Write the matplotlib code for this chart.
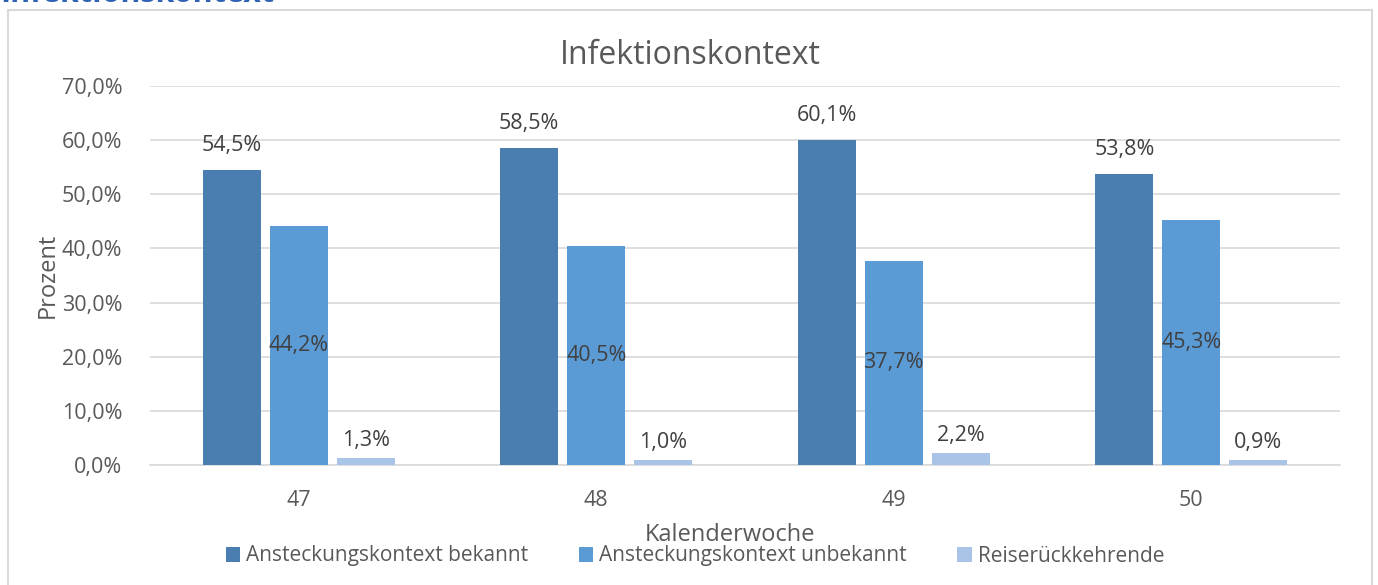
#!/usr/bin/env python3
# -*- coding:utf-8 -*-
import numpy as np
from matplotlib import pyplot as plt
from matplotlib.patches import Rectangle

wochen = ["47", "48", "49", "50"]
bekannt = [54.5, 58.5, 60.1, 53.8]
unbekannt = [44.2, 40.5, 37.7, 45.3]
reise = [1.3, 1.0, 2.2, 0.9]
serien = ["Ansteckungskontext bekannt", "Ansteckungskontext unbekannt", "Reiserückkehrende"]
farben = ["#4A7EB0", "#5B9BD5", "#A9C4E6"]
grau = "#595959"

plt.rcParams['font.family'] = ['Open Sans', 'DejaVu Sans']

W, H = 1378, 585
fig = plt.figure(figsize=(W/100, H/100), dpi=100)

# Rahmen des Diagramms
fig.patches.append(Rectangle((8/W, -0.05), (1372-8)/W, 1.05 - 10/H,
                             transform=fig.transFigure, fill=False,
                             edgecolor="#D9D9D9", linewidth=1.5))
# abgeschnittene Überschrift oben links
fig.text(0/W, 1 - 1.5/H, "Infektionskontext", color="#2F62B5", fontsize=22,
         fontweight="bold", va="baseline", ha="left")

ax = fig.add_axes([150/W, 1 - 465/H, (1340-150)/W, (465-86)/H])
x = np.arange(len(wochen))
breite = 0.195
abstand = 0.225
versatz = [10, 0, 5]  # Abstand der Beschriftung über dem Balken (pt)

for i, (werte, name) in enumerate(zip([bekannt, unbekannt, reise], serien)):
    pos = x + (i - 1)*abstand
    ax.bar(pos, [v/100 for v in werte], breite, color=farben[i], label=name, zorder=3)
    for p, v in zip(pos, werte):
        text = f"{v:.1f}%".replace(".", ",")
        if i == 1:
            ax.text(p, v/200, text, ha="center", va="center", fontsize=15.5, color="#404040", zorder=4)
        else:
            ax.annotate(text, (p, v/100), xytext=(0, versatz[i]), textcoords="offset points",
                        ha="center", va="bottom", fontsize=15.5, color="#404040")

ax.set_xlim(-0.5, 3.5)
ax.set_ylim(0, 0.7)
ax.set_yticks(np.arange(0, 0.71, 0.1))
ax.set_yticklabels([f"{t:.1f}%".replace(".", ",") for t in np.arange(0, 71, 10)])
ax.set_xticks(x)
ax.set_xticklabels(wochen)
ax.tick_params(axis="both", length=0, labelsize=15.5, colors=grau)
ax.tick_params(axis="x", pad=18)
ax.tick_params(axis="y", pad=20)
ax.yaxis.grid(True, color="#D9D9D9", linewidth=1.2, zorder=0)
for s in ["top", "right", "left"]:
    ax.spines[s].set_visible(False)
ax.spines["bottom"].set_color("#D9D9D9")
ax.spines["bottom"].set_linewidth(1.2)

fig.text(690/W, 1 - 55/H, "Infektionskontext", fontsize=23, color=grau, ha="center", va="center")
ax.set_ylabel("Prozent", fontsize=17, color=grau, labelpad=1)
fig.text(730/W, 1 - 535/H, "Kalenderwoche", fontsize=17, color=grau, ha="center", va="center")

ax.legend(loc="center", bbox_to_anchor=((695-150)/(1340-150), (465-556)/(465-86)), ncol=3,
          frameon=False, fontsize=15, labelcolor=grau, handlelength=0.7, handleheight=0.7,
          handletextpad=0.3, columnspacing=2.4)

fig.savefig("out.png", dpi=100)
